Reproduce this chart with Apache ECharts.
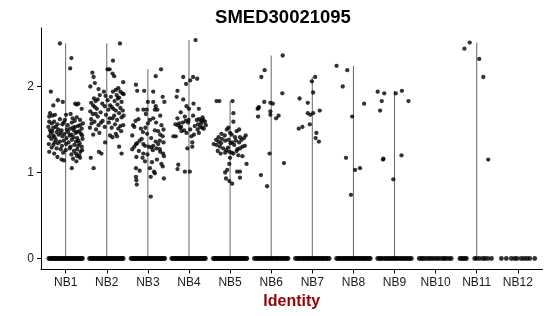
<!DOCTYPE html>
<html>
<head>
<meta charset="utf-8">
<script src="https://cdn.jsdelivr.net/npm/echarts@6/dist/echarts.min.js"></script>
<style>
html,body{margin:0;padding:0;background:#fff;}
#chart{width:550px;height:316px;}
</style>
</head>
<body>
<div id="chart"></div>
<script>
const title = 'SMED30021095';
const xTitle = 'Identity';
const categories = ['NB1','NB2','NB3','NB4','NB5','NB6','NB7','NB8','NB9','NB10','NB11','NB12'];
const yTicks = [0, 1, 2];

// Non-zero expression values per identity: [value, horizontal jitter]
const nb1 = [[2.50,-0.14],[2.33,0.14],[2.21,0.11],[1.94,-0.36],[1.05,0.15],[1.14,-0.04],
[1.84,-0.19],[1.82,-0.07],[1.80,0.23],[1.80,0.31],[1.78,-0.30],[1.74,0.39],[1.79,0.27],
[1.69,-0.38],[1.66,-0.32],[1.67,-0.26],[1.67,0.01],[1.63,0.17],[1.64,0.27],[1.61,0.35],[1.62,-0.14],[1.61,-0.02],[1.65,-0.40],[1.68,0.12],[1.60,0.22],
[1.59,-0.40],[1.59,-0.28],[1.55,0.05],[1.53,-0.24],[1.50,-0.18],[1.49,-0.10],[1.51,0.11],[1.53,0.23],[1.55,0.35],[1.51,0.39],[1.57,-0.34],[1.56,-0.08],[1.58,0.15],[1.52,-0.30],[1.54,0.30],[1.57,0.42],[1.50,0.03],[1.52,0.18],[1.56,-0.20],[1.58,-0.05],[1.49,-0.38],[1.53,-0.42],
[1.48,-0.33],[1.47,-0.22],[1.46,-0.12],[1.45,-0.03],[1.47,0.06],[1.44,0.14],[1.46,0.24],[1.48,0.33],[1.43,0.40],[1.42,-0.40],[1.41,-0.27],[1.44,-0.17],[1.42,-0.08],[1.40,0.02],[1.43,0.10],[1.41,0.19],[1.40,0.28],[1.45,0.37],[1.49,0.20],[1.46,-0.36],[1.43,-0.30],[1.47,0.28],
[1.39,-0.35],[1.38,-0.24],[1.36,-0.14],[1.37,-0.05],[1.35,0.07],[1.38,0.15],[1.36,0.25],[1.34,0.34],[1.39,0.41],[1.33,-0.41],[1.32,-0.30],[1.34,-0.19],[1.31,-0.09],[1.33,0.01],[1.30,0.12],[1.32,0.21],[1.31,0.30],[1.30,0.39],[1.37,0.31],[1.35,-0.27],
[1.29,-0.34],[1.28,-0.22],[1.27,-0.12],[1.26,0.00],[1.28,0.10],[1.25,0.20],[1.27,0.28],[1.24,0.36],[1.22,-0.28],[1.23,-0.06],[1.21,0.14],[1.22,0.25],[1.20,0.33],[1.26,0.40],[1.24,-0.40],
[1.18,-0.20],[1.16,0.18],[1.19,0.28],[1.15,-0.10],[1.17,0.35],[1.13,0.26]];

const nb2 = [[2.50,0.32],[2.30,0.15],[2.20,0.02],[2.20,0.07],[2.16,-0.35],[2.11,-0.32],[2.15,0.14],[2.12,0.18],[2.00,-0.40],[2.04,-0.29],[2.05,0.40],[1.98,0.28],[1.94,0.33],[1.94,-0.07],[1.94,0.15],[1.90,-0.17],[1.86,-0.31],[1.17,-0.39],[1.05,-0.32],[1.24,-0.19],[1.22,-0.13],[1.22,0.36],
[1.92,0.38],[1.90,0.24],[1.88,0.10],[1.87,0.30],[1.85,-0.22],[1.84,0.02],[1.83,0.19],[1.82,0.36],[1.81,-0.38],[1.80,-0.11],[1.89,-0.03],[1.96,0.22],[1.91,0.41],[1.86,0.27],[1.83,-0.27],[1.97,-0.20],
[1.79,0.26],[1.78,-0.33],[1.77,-0.05],[1.76,0.12],[1.75,0.33],[1.74,-0.24],[1.73,0.04],[1.72,0.22],[1.71,-0.40],[1.70,-0.15],[1.72,0.39],[1.76,-0.29],[1.78,0.08],[1.74,0.16],
[1.69,0.30],[1.68,-0.34],[1.67,-0.02],[1.66,0.18],[1.65,-0.22],[1.64,0.36],[1.63,0.07],[1.62,-0.38],[1.61,0.25],[1.60,-0.10],[1.66,0.41],[1.68,-0.27],[1.63,0.14],
[1.59,-0.30],[1.58,0.05],[1.57,-0.37],[1.56,0.20],[1.55,-0.20],[1.54,0.33],[1.53,-0.05],[1.52,-0.41],[1.51,0.28],[1.50,-0.26],[1.58,-0.14],[1.55,0.40],[1.52,0.12],
[1.48,0.35],[1.46,-0.18],[1.45,0.22],[1.43,0.08],[1.42,0.25],[1.41,0.14],[1.44,-0.33],[1.35,-0.04],[1.30,0.30]];

const nb3 = [[2.20,0.32],[2.12,0.19],[2.02,-0.29],[1.95,-0.26],[1.95,-0.09],[1.94,0.13],[1.88,0.36],[1.82,0.40],[1.82,0.00],[1.82,0.13],[1.77,0.19],[1.73,-0.25],[1.73,-0.11],[1.73,-0.03],[1.73,0.17],[1.73,0.23],
[1.62,-0.23],[1.63,0.13],[1.61,0.05],[1.55,0.33],[1.58,0.20],[1.55,-0.36],[1.53,-0.33],[1.51,-0.17],[1.52,-0.06],[1.49,0.17],[1.48,0.25],[1.43,-0.38],[1.33,-0.29],[1.37,-0.20],[1.30,-0.33],[1.34,-0.26],[1.33,-0.11],[1.31,-0.07],[1.30,0.02],[1.31,0.13],[1.36,0.19],[1.37,0.29],[1.42,0.36],
[1.22,-0.11],[1.17,-0.13],[1.13,-0.07],[1.18,-0.28],[1.28,0.21],[1.27,0.29],[1.22,0.37],[1.19,0.39],[1.05,-0.29],[0.95,-0.29],[0.91,-0.28],[0.86,-0.27],[1.05,0.05],[0.95,0.07],[1.01,0.15],[0.99,0.17],[0.93,0.39],[1.07,0.36],[0.72,0.07],[1.12,0.10],
[1.45,-0.02],[1.40,0.08],[1.27,-0.38],[1.25,-0.22],[1.29,0.08],[1.26,0.12],[1.33,0.25],[1.44,0.30],[1.47,-0.12],[1.39,-0.15],[1.24,0.30],[1.15,0.22],[1.10,0.33],[1.60,-0.30],[1.66,0.30],[1.68,-0.05],[1.57,0.00],[1.50,0.38],[1.35,0.38],[1.21,-0.01],[1.02,-0.20]];

const nb4 = [[2.54,0.16],[2.11,-0.14],[2.11,0.10],[2.09,0.20],[2.03,-0.07],[2.07,0.03],[1.95,-0.28],[1.88,-0.30],[1.85,-0.14],[1.80,0.11],[1.77,-0.06],[1.74,0.00],[1.74,0.24],[1.63,-0.28],[1.65,-0.10],[1.61,-0.01],[1.61,0.19],[1.57,-0.24],[1.53,-0.19],[1.58,-0.15],[1.60,-0.08],[1.61,0.35],[1.59,0.39],[1.57,0.30],[1.53,0.27],[1.51,0.36],[1.56,0.22],[1.62,0.25],[1.60,0.30],[1.55,0.41],[1.50,0.21],
[1.42,-0.38],[1.42,-0.32],[1.48,-0.18],[1.46,-0.06],[1.42,0.06],[1.35,0.08],[1.30,0.08],[1.09,-0.26],[1.04,-0.28],[1.01,-0.10],[1.01,0.02],[1.55,-0.27],[1.52,-0.22],[1.58,-0.02],[1.50,0.03],[1.54,0.14],[1.49,-0.12],[1.44,0.12],[1.52,0.32],[1.64,0.33],[1.46,0.24],[1.28,-0.04],[1.56,-0.33],[1.66,0.10],[1.70,-0.20]];

const nb5 = [[1.83,-0.33],[1.83,-0.26],[1.83,0.06],[1.69,0.08],[1.59,0.08],[1.52,-0.04],[1.50,-0.08],[1.50,0.22],[1.45,-0.21],[1.43,-0.13],[1.44,0.04],[1.41,0.12],[1.41,0.24],[1.43,0.38],[1.38,-0.34],[1.36,-0.28],[1.39,-0.20],[1.37,-0.12],[1.38,-0.04],[1.34,0.01],[1.37,0.14],[1.35,0.22],[1.38,0.28],[1.40,0.34],
[1.32,-0.33],[1.30,-0.25],[1.28,-0.17],[1.26,-0.09],[1.24,-0.02],[1.23,0.04],[1.25,0.16],[1.28,0.24],[1.30,0.30],[1.22,-0.23],[1.23,-0.12],[1.22,0.08],[1.20,0.20],[1.10,0.40],[1.10,-0.02],[1.00,-0.12],[1.03,-0.07],[1.01,0.17],[1.01,0.24],[0.94,0.24],[0.93,-0.10],[0.90,-0.02],[0.87,0.05],
[1.32,0.10],[1.29,-0.05],[1.34,-0.22],[1.27,0.18],[1.31,0.36],[1.35,0.05],[1.41,-0.28],[1.46,0.00],[1.33,-0.40],[1.19,0.30],[1.25,-0.30],[1.17,0.00],[1.48,0.16]];

const nb6 = [[2.36,0.28],[2.19,-0.16],[2.11,-0.24],[1.92,0.27],[1.82,-0.17],[1.81,-0.02],[1.80,0.04],[1.76,-0.30],[1.74,-0.33],[1.75,-0.31],[1.71,-0.02],[1.65,-0.32],[1.67,-0.02],[1.66,0.18],[1.63,0.12],[1.22,-0.04],[1.11,0.31],[0.97,-0.25],[0.84,-0.10]];
const nb7 = [[2.11,0.07],[2.06,-0.01],[1.93,0.02],[1.86,-0.31],[1.81,-0.11],[1.72,0.18],[1.69,-0.11],[1.69,0.02],[1.67,-0.05],[1.56,-0.06],[1.53,-0.24],[1.51,-0.33],[1.46,0.10],[1.40,0.08],[1.36,0.16]];
const nb8 = [[2.24,-0.41],[2.19,-0.15],[2.00,-0.26],[1.80,0.26],[1.65,-0.03],[1.17,-0.18],[1.03,0.04],[1.05,0.16],[0.74,-0.06]];
const nb9 = [[1.94,-0.41],[1.92,-0.25],[1.83,-0.31],[1.72,-0.35],[1.92,0.03],[1.95,0.18],[1.83,0.34],[1.15,-0.28],[1.16,-0.27],[1.20,0.17],[0.92,-0.03]];
const nb10 = [];
const nb11 = [[2.44,-0.30],[2.51,-0.17],[2.32,0.06],[2.11,0.16],[1.15,0.28]];
const nb12 = [];

// Jitter of cells with zero expression, per identity
const zeroDense1 = [-0.41,-0.38,-0.35,-0.33,-0.30,-0.27,-0.24,-0.22,-0.19,-0.16,-0.13,-0.11,-0.08,-0.05,-0.02,0.00,0.03,0.06,0.09,0.11,0.14,0.17,0.20,0.22,0.25,0.28,0.31,0.33,0.36,0.39,0.41];
const zeroDense2 = [-0.42,-0.39,-0.36,-0.34,-0.31,-0.28,-0.25,-0.23,-0.20,-0.17,-0.14,-0.12,-0.09,-0.06,-0.03,-0.01,0.02,0.05,0.08,0.10,0.13,0.16,0.19,0.21,0.24,0.27,0.30,0.32,0.35,0.38,0.40];
const zeroMid = [-0.41,-0.37,-0.34,-0.31,-0.27,-0.24,-0.21,-0.18,-0.14,-0.11,-0.08,-0.05,-0.01,0.02,0.05,0.09,0.12,0.15,0.18,0.22,0.25,0.28,0.31,0.35,0.38,0.41];
const zeroNB9 = [-0.41,-0.37,-0.33,-0.29,-0.24,-0.20,-0.16,-0.12,-0.08,-0.04,0.00,0.04,0.08,0.13,0.17,0.21,0.25,0.29,0.33,0.37,0.41];
const zeroNB10 = [-0.40,-0.35,-0.31,-0.26,-0.20,-0.15,-0.10,-0.05,0.01,0.06,0.12,0.18,0.22,0.27,0.33,0.38];
const zeroNB11 = [-0.41,-0.37,-0.33,-0.29,-0.25,-0.05,0.00,0.07,0.15,0.20,0.27,0.36];
const zeroNB12 = [-0.40,-0.28,-0.16,-0.08,-0.02,0.08,0.15,0.22,0.29,0.41];

const groupValues = [nb1, nb2, nb3, nb4, nb5, nb6, nb7, nb8, nb9, nb10, nb11, nb12];
const groupZeros = [zeroDense1, zeroDense2, zeroDense1, zeroDense2, zeroDense1, zeroMid, zeroMid, zeroMid, zeroNB9, zeroNB10, zeroNB11, zeroNB12];

const pointData = [];
const zeroData = [];
const violinData = [];
groupValues.forEach((vals, i) => {
  groupZeros[i].forEach(j => zeroData.push([i + j, 0]));
  vals.forEach(([v, j]) => pointData.push([i + j, v]));
  const mx = vals.reduce((m, p) => Math.max(m, p[0]), 0);
  if (mx > 0) violinData.push([i, mx]);
});

const chart = echarts.init(document.getElementById('chart'), null, {renderer: 'canvas'});
const font = 'Liberation Sans, Arial, Helvetica, sans-serif';
chart.setOption({
  animation: false,
  backgroundColor: '#fff',
  title: {
    text: title,
    left: 278,
    textAlign: 'center',
    top: 3,
    textStyle: {fontSize: 18.5, fontWeight: 'bold', color: '#000', fontFamily: font}
  },
  grid: {left: 41, right: 7.5, top: 28, bottom: 46.5, containLabel: false, outerBoundsMode: 'none'},
  xAxis: {
    type: 'value', min: -0.6, max: 11.6,
    name: xTitle, nameLocation: 'middle', nameGap: 22,
    nameTextStyle: {fontSize: 16, fontWeight: 'bold', color: '#990000', fontFamily: font},
    axisLine: {show: true, onZero: false, lineStyle: {color: '#000', width: 1}},
    axisTick: {show: true, length: 4, customValues: categories.map((c, i) => i), lineStyle: {color: '#000'}},
    axisLabel: {customValues: categories.map((c, i) => i), formatter: v => categories[Math.round(v)], color: '#1a1a1a', fontSize: 12, margin: 7, fontFamily: font},
    splitLine: {show: false}
  },
  yAxis: {
    type: 'value', min: -0.128, max: 2.68,
    axisLine: {show: true, onZero: false, lineStyle: {color: '#000', width: 1}},
    axisTick: {show: true, length: 4, customValues: yTicks, lineStyle: {color: '#000'}},
    axisLabel: {customValues: yTicks, color: '#1a1a1a', fontSize: 12, margin: 7, fontFamily: font},
    splitLine: {show: false}
  },
  series: [
    {
      type: 'custom',
      data: violinData,
      z: 1,
      renderItem: (params, api) => {
        const i = api.value(0), m = api.value(1);
        const p0 = api.coord([i, 0]);
        const p1 = api.coord([i, m]);
        return {type: 'line', shape: {x1: p0[0], y1: p0[1], x2: p1[0], y2: p1[1]}, style: {stroke: '#666', lineWidth: 1}};
      },
      silent: true
    },
    {
      type: 'scatter',
      data: zeroData,
      symbol: 'circle',
      symbolSize: 4.8,
      itemStyle: {color: '#000'},
      z: 2,
      silent: true
    },
    {
      type: 'scatter',
      data: pointData,
      symbol: 'circle',
      symbolSize: 4.3,
      itemStyle: {color: '#000'},
      z: 2,
      silent: true
    }
  ]
});
</script>
</body>
</html>
